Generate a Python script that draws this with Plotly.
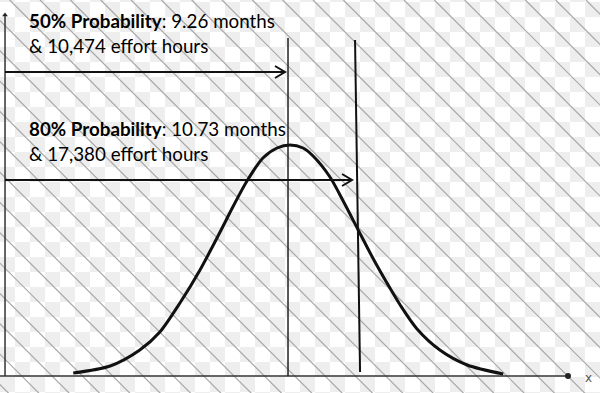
import plotly.graph_objects as go

# ---- data ----
curve_months = [4.55, 5.36, 6.01, 6.45, 6.89, 7.33, 7.77, 8.05, 8.36, 8.71, 9.02, 9.30,
                9.59, 9.81, 10.18, 10.47, 10.80, 11.12, 11.43, 11.72, 12.09, 12.59,
                13.19, 13.98]
curve_density = [3, 10, 26, 44, 73, 106, 144, 169, 195, 218, 228, 231,
                 228, 220, 199, 175, 146, 118, 93, 71, 47, 26,
                 11, 2]

p50_month = 9.26
p80_month = 10.73
p80_month_bottom = 10.84      # the 80% marker line is slightly tilted in the source
p50_line_top = 338
p80_line_top = 336
p80_line_bottom = 4
arrow50_y = 304
arrow80_y = 196
axis_start_month = 3.054
axis_end_month = 15.40
yaxis_top = 361

label50_bold = "50% Probability"
label50_rest = ": 9.26 months"
label50_line2 = "&amp; 10,474 effort hours"
label80_bold = "80% Probability"
label80_rest = ": 10.73 months"
label80_line2 = "&amp; 17,380 effort hours"

W, H = 600, 393
X_MIN, X_MAX = 2.944, 16.102
Y_MIN, Y_MAX = -17, 376
PX_PER_MONTH = W / (X_MAX - X_MIN)


def mx(px):
    return X_MIN + px / PX_PER_MONTH


def my(py):
    return Y_MAX - py


fig = go.Figure()

# ---- background texture: checkerboard (heatmap) ----
cell = 15
yoff = 2
ncols = W // cell
rows = list(range(-1, H // cell + 1))
z = [[(c + r) % 2 for c in range(ncols)] for r in rows]
fig.add_trace(go.Heatmap(
    z=z, x0=mx(cell / 2), dx=cell / PX_PER_MONTH,
    y0=my(yoff + cell / 2 + rows[0] * cell), dy=-cell,
    colorscale=[[0, "#ffffff"], [1, "#eeeeee"]], showscale=False,
    zmin=0, zmax=1, hoverinfo="skip"))

# ---- background texture: diagonal hatch ----
hx, hy = [], []
spacing = 30.33
for k in range(-24, 11):
    x0 = 313 + spacing * k
    hx += [mx(x0), mx(x0 + H + 20), None]
    hy += [my(0), my(H + 20), None]
fig.add_trace(go.Scatter(x=hx, y=hy, mode="lines",
                         line=dict(color="#a8a8a8", width=1.2), hoverinfo="skip"))

# ---- axes ----
fig.add_trace(go.Scatter(x=[X_MIN, axis_end_month], y=[0, 0], mode="lines",
                         line=dict(color="#333333", width=1.5), hoverinfo="skip"))
fig.add_trace(go.Scatter(x=[axis_end_month], y=[0], mode="markers",
                         marker=dict(color="#222222", size=6, symbol="circle"), hoverinfo="skip"))
fig.add_trace(go.Scatter(x=[axis_start_month, axis_start_month], y=[0, yaxis_top], mode="lines",
                         line=dict(color="#333333", width=1.5), hoverinfo="skip"))
fig.add_trace(go.Scatter(x=[axis_start_month], y=[yaxis_top], mode="markers",
                         marker=dict(color="#222222", size=5, symbol="triangle-up"), hoverinfo="skip"))

# ---- percentile lines ----
fig.add_trace(go.Scatter(x=[p50_month, p50_month], y=[0, p50_line_top], mode="lines",
                         line=dict(color="#222222", width=1.5), hoverinfo="skip"))
fig.add_trace(go.Scatter(x=[p80_month_bottom, p80_month], y=[p80_line_bottom, p80_line_top],
                         mode="lines", line=dict(color="#111111", width=2), hoverinfo="skip"))

# ---- arrows with open chevron heads ----
for yv, xe in [(arrow50_y, p50_month - 3 / PX_PER_MONTH), (arrow80_y, p80_month - 3 / PX_PER_MONTH)]:
    fig.add_trace(go.Scatter(x=[axis_start_month, xe], y=[yv, yv], mode="lines",
                             line=dict(color="#111111", width=2), hoverinfo="skip"))
    hl = 10 / PX_PER_MONTH
    fig.add_trace(go.Scatter(x=[xe - hl, xe, xe - hl], y=[yv + 6, yv, yv - 6], mode="lines",
                             line=dict(color="#111111", width=2), hoverinfo="skip"))

# ---- bell curve ----
fig.add_trace(go.Scatter(x=curve_months, y=curve_density, mode="lines",
                         line=dict(color="#111111", width=3, shape="spline", smoothing=0.8),
                         hoverinfo="skip"))

font = dict(family="Lato, 'Open Sans', sans-serif", size=18.8, color="#000000")
text_x = mx(27)
annotations = [
    dict(x=text_x, y=my(20), xref="x", yref="y", xanchor="left", yanchor="middle",
         text=f"<b>{label50_bold}</b>{label50_rest}", showarrow=False, font=font),
    dict(x=text_x, y=my(45), xref="x", yref="y", xanchor="left", yanchor="middle",
         text=label50_line2, showarrow=False, font=font),
    dict(x=text_x, y=my(128), xref="x", yref="y", xanchor="left", yanchor="middle",
         text=f"<b>{label80_bold}</b>{label80_rest}", showarrow=False, font=font),
    dict(x=text_x, y=my(153), xref="x", yref="y", xanchor="left", yanchor="middle",
         text=label80_line2, showarrow=False, font=font),
    dict(x=mx(588), y=my(378), xref="x", yref="y", xanchor="center", yanchor="middle",
         text="x", showarrow=False, font=dict(family="DejaVu Sans", size=12, color="#555555")),
]

fig.update_layout(
    width=W, height=H, margin=dict(l=0, r=0, t=0, b=0),
    paper_bgcolor="white", plot_bgcolor="white",
    showlegend=False, annotations=annotations,
    xaxis=dict(range=[X_MIN, X_MAX], visible=False, fixedrange=True),
    yaxis=dict(range=[Y_MIN, Y_MAX], visible=False, fixedrange=True),
)

fig.write_html("out.html", config={"displayModeBar": False},
               post_script="document.body.style.margin='0';document.body.style.overflow='hidden';")
